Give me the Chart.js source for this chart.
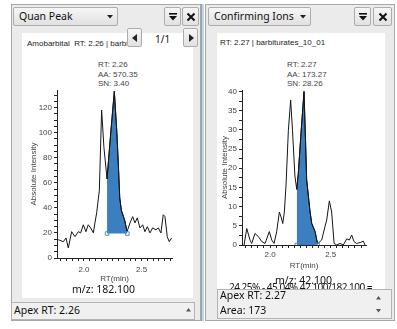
<!DOCTYPE html>
<html>
<head>
<meta charset="utf-8">
<script src="https://cdn.jsdelivr.net/npm/chart.js"></script>
<style>
  body { margin: 0; width: 397px; height: 329px; background: #fff; position: relative; overflow: hidden; font-family: "Noto Sans", sans-serif; }
  .panel { position: absolute; background: #ebebeb; border: 1px solid #a7a7a7; box-sizing: border-box; }
  .dd, .btn { position: absolute; box-sizing: border-box; border: 1px solid #adadad; border-radius: 2px; background: linear-gradient(#f6f6f6, #e1e1e1); }
  .dd { font-size: 10.5px; line-height: 17px; padding-left: 5px; color: #111; }
  .white { position: absolute; background: #fff; }
  .tiny { position: absolute; font-family: "Liberation Sans", Arial, sans-serif; font-size: 8px; line-height: 10px; color: #444; white-space: nowrap; }
  .ui { position: absolute; font-size: 10.5px; line-height: 14px; color: #111; white-space: nowrap; }
  .box { position: absolute; box-sizing: border-box; border: 1px solid #b3b3b3; background: #f0f0f0; }
  canvas { position: absolute; }
</style>
</head>
<body>
<!-- left panel -->
<div class="panel" style="left:11px;top:4px;width:190px;height:317px;"></div>
<div class="dd" style="left:13px;top:7px;width:105px;height:19px;">Quan Peak
  <svg style="position:absolute;left:93px;top:7px" width="6" height="4"><polygon points="0,0 6,0 3,3.5" fill="#222"/></svg>
</div>
<div class="btn" style="left:164px;top:7px;width:17px;height:19px;">
  <svg style="position:absolute;left:3px;top:4px" width="10" height="10"><rect x="1" y="1" width="8" height="1.6" fill="#111"/><polygon points="1,4 9,4 5,8.5" fill="#111"/></svg>
</div>
<div class="btn" style="left:182px;top:7px;width:17px;height:19px;">
  <svg style="position:absolute;left:3px;top:4px" width="10" height="10"><path d="M1.5 1.5 L8.5 8.5 M8.5 1.5 L1.5 8.5" stroke="#111" stroke-width="2"/></svg>
</div>
<div class="white" style="left:22px;top:33px;width:171px;height:265px;"></div>
<div class="tiny" style="left:27px;top:39px;width:100px;overflow:hidden;color:#222;">Amobarbital&nbsp; RT: 2.26 | barbiturates_10_01</div>
<div class="btn" style="left:127px;top:28px;width:15px;height:19px;">
  <svg style="position:absolute;left:4px;top:5px" width="6" height="8"><polygon points="5,0 5,8 0,4" fill="#222"/></svg>
</div>
<div class="ui" style="left:155px;top:32px;font-size:10px;">1/1</div>
<div class="btn" style="left:183px;top:28px;width:15px;height:19px;">
  <svg style="position:absolute;left:5px;top:5px" width="6" height="8"><polygon points="0,0 0,8 5,4" fill="#222"/></svg>
</div>
<div class="tiny" style="left:98px;top:60px;">RT: 2.26</div>
<div class="tiny" style="left:98px;top:70px;">AA: 570.35</div>
<div class="tiny" style="left:98px;top:79px;">SN: 3.40</div>
<canvas id="leftChart" width="171" height="230" style="left:22px;top:56px;"></canvas>
<div class="ui" style="left:72px;top:282px;">m/z: 182.100</div>
<div class="box" style="left:11px;top:302px;width:184px;height:18px;"></div>
<div class="ui" style="left:14px;top:303px;">Apex RT: 2.26</div>
<svg style="position:absolute;left:186px;top:308px" width="5" height="4"><polygon points="0,3.5 5,3.5 2.5,0" fill="#555"/></svg>

<!-- splitter -->
<div style="position:absolute;left:201px;top:4px;width:3px;height:317px;background:#c9d3df;border-left:1px solid #8fa3bd;box-sizing:border-box;"></div>

<!-- right panel -->
<div class="panel" style="left:205px;top:4px;width:190px;height:317px;"></div>
<div class="dd" style="left:208px;top:7px;width:103px;height:19px;">Confirming Ions
  <svg style="position:absolute;left:91px;top:7px" width="6" height="4"><polygon points="0,0 6,0 3,3.5" fill="#222"/></svg>
</div>
<div class="btn" style="left:354px;top:7px;width:17px;height:19px;">
  <svg style="position:absolute;left:3px;top:4px" width="10" height="10"><rect x="1" y="1" width="8" height="1.6" fill="#111"/><polygon points="1,4 9,4 5,8.5" fill="#111"/></svg>
</div>
<div class="btn" style="left:373px;top:7px;width:19px;height:19px;">
  <svg style="position:absolute;left:4px;top:4px" width="10" height="10"><path d="M1.5 1.5 L8.5 8.5 M8.5 1.5 L1.5 8.5" stroke="#111" stroke-width="2"/></svg>
</div>
<div class="white" style="left:217px;top:33px;width:168px;height:256px;"></div>
<div class="tiny" style="left:220px;top:38px;color:#222;">RT: 2.27 | barbiturates_10_01</div>
<div class="tiny" style="left:287px;top:60px;">RT: 2.27</div>
<div class="tiny" style="left:287px;top:70px;">AA: 173.27</div>
<div class="tiny" style="left:287px;top:79px;">SN: 28.26</div>
<canvas id="rightChart" width="168" height="217" style="left:217px;top:56px;"></canvas>
<div class="ui" style="left:275px;top:273px;">m/z: 42.100</div>
<div class="ui" style="left:229px;top:280px;font-size:10px;letter-spacing:-0.5px;">24.25% - 45.04% 42.100/182.100 =</div>
<div class="box" style="left:217px;top:289px;width:175px;height:30px;"></div>
<div class="ui" style="left:220px;top:288px;">Apex RT: 2.27</div>
<div class="ui" style="left:220px;top:303px;">Area: 173</div>
<svg style="position:absolute;left:376px;top:296px" width="5" height="4"><polygon points="0,3.5 5,3.5 2.5,0" fill="#555"/></svg>
<svg style="position:absolute;left:376px;top:309px" width="5" height="4"><polygon points="0,0 5,0 2.5,3.5" fill="#555"/></svg>

<script>
// Quan peak, m/z 182.100
const leftRt = [1.777, 1.821, 1.844, 1.864, 1.893, 1.922, 1.951, 1.971, 1.994, 2.017, 2.037, 2.058, 2.081, 2.095, 2.110, 2.133, 2.153, 2.173, 2.200, 2.225, 2.263, 2.285, 2.300, 2.310, 2.324, 2.353, 2.373, 2.399, 2.422, 2.442, 2.462, 2.485, 2.509, 2.528, 2.549, 2.572, 2.595, 2.624, 2.644, 2.667, 2.687, 2.702, 2.722, 2.739, 2.760];
const leftIntensity = [14.6, 13, 16, 8, 21, 17, 21, 20, 26.5, 21, 26.5, 24, 20, 28, 36, 54, 118, 88, 63, 92, 133, 100, 70, 48, 38, 30, 21, 28, 33, 28, 32, 24, 26.5, 21, 25, 20, 24, 22.5, 24, 20, 34.5, 33, 17, 13, 16];
const leftPeakRange = [2.200, 2.373];
const leftBaselineRt = [2.200, 2.376];
const leftBaselineIntensity = [19.5, 19.5];
const leftXLabels = [2.0, 2.5];
const leftYLabels = [0, 20, 40, 60, 80, 100, 120];

// Confirming ion, m/z 42.100
const rightRt = [1.786, 1.808, 1.835, 1.849, 1.876, 1.904, 1.932, 1.959, 1.994, 2.014, 2.033, 2.055, 2.077, 2.091, 2.105, 2.118, 2.132, 2.151, 2.170, 2.185, 2.205, 2.220, 2.233, 2.255, 2.280, 2.290, 2.302, 2.330, 2.344, 2.371, 2.392, 2.426, 2.453, 2.467, 2.489, 2.508, 2.528, 2.550, 2.577, 2.604, 2.632, 2.654, 2.673, 2.692, 2.714, 2.748, 2.769, 2.783];
const rightIntensity = [0, 4.3, 1.3, 0.4, 3.0, 2.2, 0.9, 0.4, 3.5, 1.3, 0.4, 3.5, 8.6, 7.3, 5.6, 8.6, 15.6, 29.8, 37.8, 30, 18, 14.5, 18.6, 29, 40, 30, 17, 8.6, 5.6, 3.5, 0.3, 1.3, 4.8, 6.5, 11.5, 8.6, 0.4, 0, 0.4, 0, 1.6, 1.3, 2.6, 0.9, 0.4, 0.7, 1, 0];
const rightPeakRange = [2.220, 2.392];
const rightBaselineRt = [2.220, 2.392];
const rightBaselineIntensity = [0, 0];
const rightXLabels = [2.0, 2.5];
const rightYLabels = [0, 5, 10, 15, 20, 25, 30, 35, 40];

const axisFont = { family: 'Liberation Sans', size: 8 };
const near = (a, b) => Math.abs(a - b) < 1e-6;

// tick marks every `step` inside [min, max]; labels only where listed
function tickList(min, max, step) {
  const out = [];
  for (let k = Math.ceil(min / step - 1e-9); k * step <= max + 1e-9; k++) out.push({ value: +(k * step).toFixed(4) });
  return out;
}

function drawChromatogram(id, o) {
  const trace = o.rt.map((x, i) => ({ x, y: o.intensity[i] }));
  const peak = trace.filter(p => p.x >= o.peakRange[0] - 1e-9 && p.x <= o.peakRange[1] + 1e-9);
  const marks = o.baseRt.map((x, i) => ({ x, y: o.baseIntensity[i] }));

  return new Chart(document.getElementById(id), {
    type: 'scatter',
    data: {
      datasets: [
        { data: marks, pointStyle: 'rect', pointRadius: 2.5, borderColor: '#4a8ad0', backgroundColor: 'rgba(255,255,255,0)', borderWidth: 1 },
        { data: trace, showLine: true, borderColor: '#151515', borderWidth: 1, pointRadius: 0 },
        { data: peak, showLine: true, borderColor: '#151515', borderWidth: 1, pointRadius: 0, fill: { value: o.baseIntensity[0] }, backgroundColor: '#3b7fc0' }
      ]
    },
    options: {
      responsive: false,
      animation: false,
      events: [],
      layout: { padding: { top: 34, right: o.padRight, left: 0, bottom: 0 } },
      plugins: { legend: { display: false }, tooltip: { enabled: false } },
      scales: {
        x: {
          type: 'linear', min: o.xMin, max: o.xMax,
          afterFit: s => { s.height = 28; },
          afterBuildTicks: s => { s.ticks = tickList(o.xMin, o.xMax, o.xStep); },
          ticks: {
            autoSkip: false, maxRotation: 0, padding: o.xLabelPad, color: '#444', font: axisFont,
            callback: v => o.xLabels.some(l => near(l, v)) ? v.toFixed(1) : ''
          },
          grid: { drawOnChartArea: false, tickLength: 3, color: '#222' },
          border: { color: '#222' },
          title: { display: true, text: 'RT(min)', color: '#444', font: axisFont, padding: { top: 0, bottom: 2 } }
        },
        y: {
          min: 0, max: o.yMax,
          afterFit: s => { s.width = o.yWidth; },
          afterBuildTicks: s => { s.ticks = tickList(0, o.yMax, o.yStep); },
          ticks: {
            autoSkip: false, padding: 2, color: '#444', font: axisFont,
            callback: v => o.yLabels.some(l => near(l, v)) ? String(v) : ''
          },
          grid: { drawOnChartArea: false, tickLength: 3, color: '#222' },
          border: { color: '#222' },
          title: { display: true, text: 'Absolute Intensity', color: '#444', font: axisFont, padding: { top: o.yTitlePad, bottom: 0 } }
        }
      }
    }
  });
}

drawChromatogram('leftChart', {
  rt: leftRt, intensity: leftIntensity, peakRange: leftPeakRange,
  baseRt: leftBaselineRt, baseIntensity: leftBaselineIntensity,
  xLabels: leftXLabels, yLabels: leftYLabels,
  xMin: 1.766, xMax: 2.763, xStep: 0.05, yMax: 134, yStep: 5,
  padRight: 21, yWidth: 35, yTitlePad: 7, xLabelPad: 4
});

drawChromatogram('rightChart', {
  rt: rightRt, intensity: rightIntensity, peakRange: rightPeakRange,
  baseRt: rightBaselineRt, baseIntensity: rightBaselineIntensity,
  xLabels: rightXLabels, yLabels: rightYLabels,
  xMin: 1.769, xMax: 2.791, xStep: 0.05, yMax: 40.4, yStep: 2.5,
  padRight: 19, yWidth: 25, yTitlePad: 3, xLabelPad: 2
});
</script>
</body>
</html>
